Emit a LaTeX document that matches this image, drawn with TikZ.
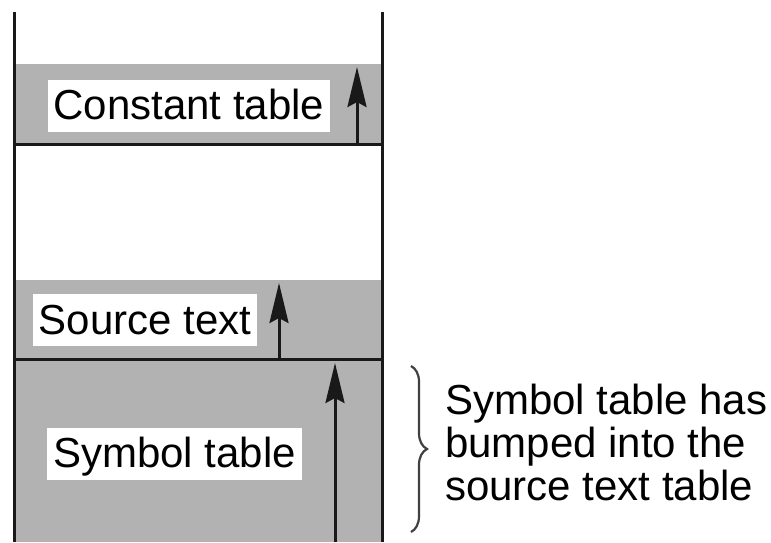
\documentclass[tikz,border=0pt]{standalone}
\usepackage{fontspec}
\setmainfont{Liberation Sans}
\usetikzlibrary{arrows.meta,decorations.pathreplacing}
\begin{document}
\begin{tikzpicture}[x=1pt, y=-1pt, >={Stealth[length=40pt,width=19pt,inset=5pt]},
  bande/.style={fill=black!30},
  trait/.style={line width=3pt, black!90},
  etiquette/.style={fill=white, inner xsep=6pt, inner ysep=0pt,
    text height=40pt, text depth=12pt, font=\fontsize{42}{43}\selectfont}]

  \useasboundingbox (0,0) rectangle (771,542);

  % Bandes grises des trois tables.
  \fill[bande] (14,64) rectangle (382,144);
  \fill[bande] (14,280) rectangle (382,542);

  % Séparations et bords de la mémoire.
  \draw[trait] (14,144) -- (382,144);
  \draw[trait] (14,359) -- (382,359);
  \draw[trait] (14,12) -- (14,542);
  \draw[trait] (382,12) -- (382,542);

  % Noms des tables.
  \node[etiquette] (constante) at (189,105.5) {Constant table};
  \node[etiquette] (source) at (145,320) {Source text};
  \node[etiquette] (symbole) at (174.5,453.5) {Symbol table};

  % Sens de croissance de chaque table.
  \coordinate (c0) at (357,144); \coordinate (c1) at (357,67);
  \coordinate (s0) at (279,359); \coordinate (s1) at (279,283);
  \coordinate (y0) at (335,542); \coordinate (y1) at (335,363);
  \draw[trait, ->] (c0) -- (c1);
  \draw[trait, ->] (s0) -- (s1);
  \draw[trait, ->] (y0) -- (y1);

  % Accolade et remarque.
  \coordinate (a0) at (411,366); \coordinate (a1) at (411,532);
  \draw[decorate, decoration={brace, amplitude=16pt}, line width=2.2pt, black!75] (a0) -- (a1);
  \node[anchor=west, align=left, inner sep=0pt, font=\fontsize{42}{43}\selectfont]
       (remarque) at (445,442) {Symbol table has\\bumped into the\\source text table};

\end{tikzpicture}
\end{document}
